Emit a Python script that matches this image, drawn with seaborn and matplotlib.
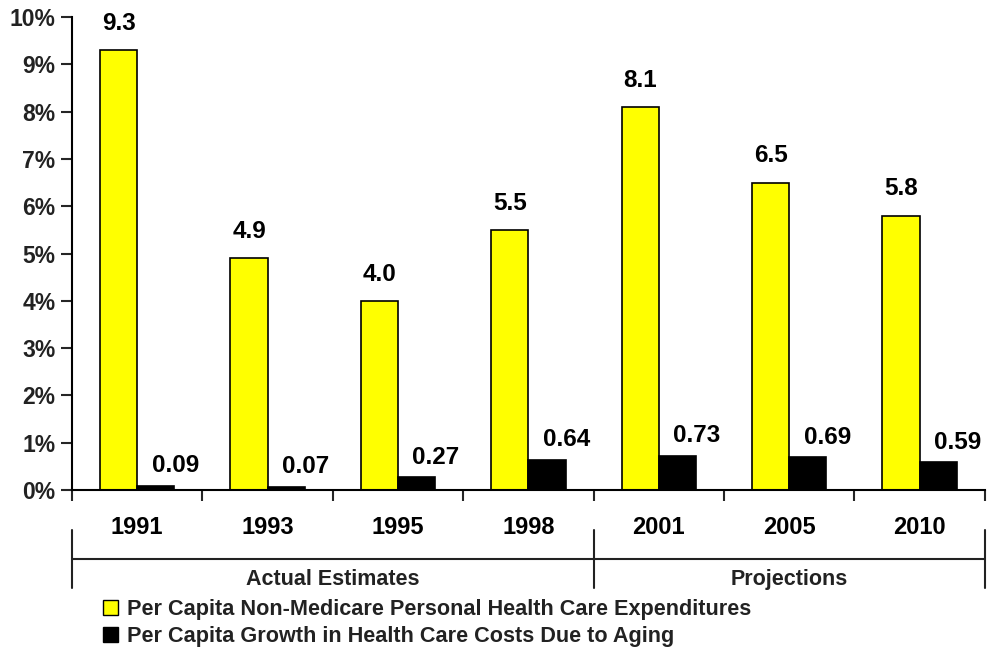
import numpy as np
import pandas as pd
import seaborn as sns
import matplotlib.pyplot as plt
from matplotlib.patches import Patch

years = ['1991', '1993', '1995', '1998', '2001', '2005', '2010']
non_medicare = [9.3, 4.9, 4.0, 5.5, 8.1, 6.5, 5.8]
aging = [0.09, 0.07, 0.27, 0.64, 0.73, 0.69, 0.59]
yellow_labels = ['9.3', '4.9', '4.0', '5.5', '8.1', '6.5', '5.8']
black_labels = ['0.09', '0.07', '0.27', '0.64', '0.73', '0.69', '0.59']
s1 = 'Per Capita Non-Medicare Personal Health Care Expenditures'
s2 = 'Per Capita Growth in Health Care Costs Due to Aging'

df = pd.DataFrame({'year': years * 2,
                   'value': non_medicare + aging,
                   'series': [s1] * len(years) + [s2] * len(years)})

sns.set_style('white')
plt.rcParams['font.family'] = ['Liberation Sans', 'DejaVu Sans']
plt.rcParams['text.color'] = 'black'

fig = plt.figure(figsize=(9.91, 6.56), dpi=100)
ax = fig.add_axes([0.0727, 0.253, 0.921, 0.721])
sns.barplot(data=df, x='year', y='value', hue='series', ax=ax,
            palette=['#ffff00', '#000000'], width=0.57, saturation=1,
            edgecolor='black', linewidth=1.2, legend=False)

# labels above bars
for i, cont in enumerate(ax.containers):
    labs = yellow_labels if i == 0 else black_labels
    for bar, lab in zip(cont, labs):
        cx = bar.get_x() + bar.get_width() / 2
        if i == 0:
            ax.annotate(lab, (cx, bar.get_height()), xytext=(0, 11),
                        textcoords='offset points', ha='center', va='bottom',
                        fontsize=17.5, fontweight='bold', color='black')
        else:
            ax.annotate(lab, (cx, bar.get_height()), xytext=(14, 6),
                        textcoords='offset points', ha='center', va='bottom',
                        fontsize=17.5, fontweight='bold', color='black')

ax.set_ylim(0, 10)
ax.set_xlim(-0.5, 6.5)
ax.set_yticks(range(0, 11))
ax.set_yticklabels([f'{v}%' for v in range(0, 11)], fontsize=16.5,
                   fontweight='bold', color='#222222')
ax.set_xticks(np.arange(-0.5, 7, 1))
ax.set_xticklabels([])
ax.set_xticks(range(len(years)), minor=True)
ax.set_xticklabels(years, minor=True, fontsize=17, fontweight='bold', color='black')
ax.tick_params(axis='x', which='major', direction='out', length=8, width=1.5, bottom=True)
ax.tick_params(axis='x', which='minor', length=0, pad=19)
ax.tick_params(axis='y', direction='out', length=8, width=1.5, left=True, pad=4)
ax.set_xlabel('')
ax.set_ylabel('')
for s in ['top', 'right']:
    ax.spines[s].set_visible(False)
for s in ['left', 'bottom']:
    ax.spines[s].set_linewidth(1.5)
    ax.spines[s].set_color('black')

# group bracket under the years
tr = ax.get_xaxis_transform()
for xb in [-0.5, 3.5, 6.5]:
    ax.plot([xb, xb], [-0.085, -0.207], color='#222222', lw=1.5,
            transform=tr, clip_on=False)
ax.plot([-0.5, 6.5], [-0.146, -0.146], color='#222222', lw=1.5,
        transform=tr, clip_on=False)
ax.text(1.5, -0.19, 'Actual Estimates', transform=tr, ha='center', va='center',
        fontsize=15.5, fontweight='bold', color='#222222')
ax.text(5.0, -0.19, 'Projections', transform=tr, ha='center', va='center',
        fontsize=15.5, fontweight='bold', color='#222222')

handles = [Patch(facecolor='#ffff00', edgecolor='black', label=s1),
           Patch(facecolor='#000000', edgecolor='black', label=s2)]
fig.legend(handles=handles, loc='upper left', bbox_to_anchor=(0.104, 0.087),
           frameon=False, handlelength=0.7, handleheight=0.7, handletextpad=0.4,
           labelspacing=0.3, borderpad=0, borderaxespad=0,
           prop={'size': 15.6, 'weight': 'bold'}, labelcolor='#222222')

plt.savefig('out.png', dpi=100)
